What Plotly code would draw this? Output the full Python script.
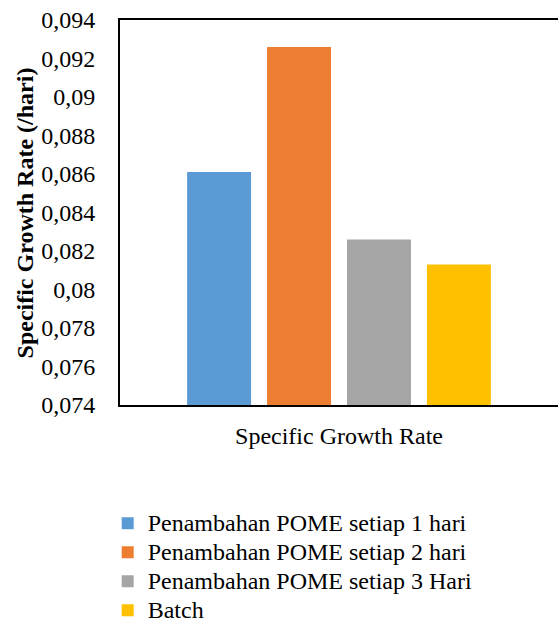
import plotly.graph_objects as go

# Specific growth rate per feeding scheme
category = ["Specific Growth Rate"]
series_names = [
    "Penambahan POME setiap 1 hari",
    "Penambahan POME setiap 2 hari",
    "Penambahan POME setiap 3 Hari",
    "Batch",
]
growth_rates = [0.0861, 0.0926, 0.0826, 0.0813]
colors = ["#5B9BD5", "#ED7D31", "#A5A5A5", "#FFC000"]

y_tick_vals = [0.074, 0.076, 0.078, 0.080, 0.082, 0.084, 0.086, 0.088, 0.090, 0.092, 0.094]
y_tick_text = ["0,074", "0,076", "0,078", "0,08", "0,082", "0,084", "0,086", "0,088", "0,09", "0,092", "0,094"]
y_title = "Specific Growth Rate (/hari)"

FONT = "Liberation Serif"

fig = go.Figure()
for name, val, col in zip(series_names, growth_rates, colors):
    fig.add_trace(go.Bar(
        x=category, y=[val],
        name=f"<span style='font-size:24px'>{name}</span>",
        marker=dict(color=col, line=dict(width=0)),
    ))

fig.update_layout(
    width=558,
    height=622,
    margin=dict(l=120, r=0, t=20, b=217, autoexpand=False),
    paper_bgcolor="white",
    plot_bgcolor="white",
    font=dict(family=FONT, size=24, color="black"),
    barmode="group",
    bargap=0.27,
    bargroupgap=0.2,
    showlegend=True,
    legend=dict(
        xref="container", yref="container",
        x=0.193, y=0.19, xanchor="left", yanchor="top",
        orientation="v", traceorder="normal",
        font=dict(family=FONT, size=20, color="black"),
        itemwidth=30, tracegroupgap=0,
        bgcolor="rgba(0,0,0,0)",
    ),
)

# rotated, bold y-axis title
fig.add_annotation(
    text=y_title,
    xref="paper", yref="paper", x=-0.217, y=0.5,
    xanchor="center", yanchor="middle", textangle=-90, showarrow=False,
    font=dict(family=FONT, size=24, color="black", weight=700),
)

fig.update_xaxes(
    type="category", automargin=False,
    showline=True, linecolor="black", linewidth=2, mirror=True,
    showgrid=False, ticks="", ticklabelstandoff=8,
    tickfont=dict(family=FONT, size=24, color="black"),
)
fig.update_yaxes(
    range=[0.074, 0.094], automargin=False,
    tickvals=y_tick_vals, ticktext=y_tick_text,
    showline=True, linecolor="black", linewidth=2, mirror=False,
    showgrid=False, zeroline=False, ticks="", ticklabelstandoff=18,
    tickfont=dict(family=FONT, size=24, color="black"),
)

fig.write_html("out.html")
